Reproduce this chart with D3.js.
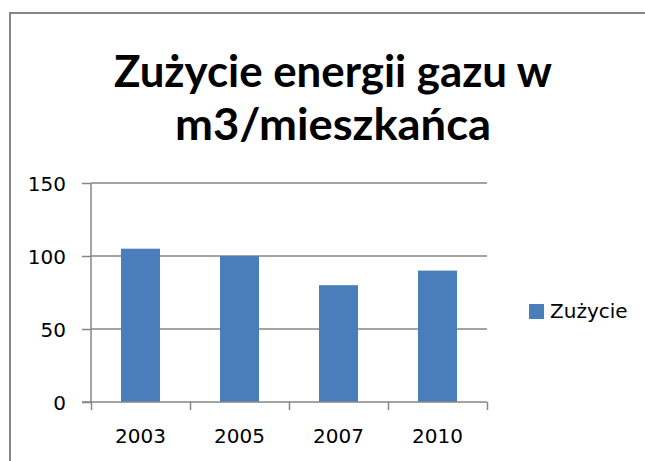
<!DOCTYPE html>
<html>
<head>
<meta charset="utf-8">
<script src="https://cdn.jsdelivr.net/npm/d3@7"></script>
<style>
  body { margin: 0; background: #fff; }
  svg { display: block; }
</style>
</head>
<body>
<script>
let years = ["2003", "2005", "2007", "2010"];
let usage = [105, 100, 80, 90];
let yTicks = [0, 50, 100, 150];
let seriesName = "Zużycie";
let titleLines = ["Zużycie energii gazu w", "m3/mieszkańca"];

let svg = d3.select("body").append("svg").attr("width", 645).attr("height", 461);

// outer frame (only left and top visible)
svg.append("path").attr("d", "M10,461 V13 H645").attr("fill", "none")
    .attr("stroke", "#868686").attr("stroke-width", 2);

// title
let titleWidths = [438, 316];
svg.selectAll("text.title").data(titleLines).enter().append("text")
    .attr("class", "title")
    .attr("x", 333).attr("y", function(d, i) { return 87 + i * 53; })
    .attr("text-anchor", "middle")
    .attr("font-family", "Lato, sans-serif").attr("font-weight", 700)
    .attr("font-size", 44)
    .attr("textLength", function(d, i) { return titleWidths[i]; })
    .attr("lengthAdjust", "spacingAndGlyphs")
    .text(function(d) { return d; });

let y = d3.scaleLinear().domain([0, 150]).range([402, 183]);
let x = d3.scaleBand().domain(years).range([91, 487]).paddingInner(0.606).paddingOuter(0.303);
let xb = d3.scaleLinear().domain([0, years.length]).range([91, 487]);

// gridlines
svg.selectAll("line.grid").data(yTicks.slice(1)).enter().append("line")
    .attr("class", "grid")
    .attr("x1", 91).attr("x2", 487)
    .attr("y1", function(d) { return y(d); }).attr("y2", function(d) { return y(d); })
    .attr("stroke", "#868686").attr("stroke-width", 1.5);

// bars
svg.selectAll("rect.bar").data(usage).enter().append("rect")
    .attr("class", "bar")
    .attr("x", function(d, i) { return x(years[i]); })
    .attr("width", x.bandwidth())
    .attr("y", function(d) { return y(d); })
    .attr("height", function(d) { return y(0) - y(d); })
    .attr("fill", "#4a7ebb");

// y axis
let yAxis = svg.append("g").attr("transform", "translate(91,0)")
    .call(d3.axisLeft(y).tickValues(yTicks).tickSize(9).tickPadding(16));
yAxis.selectAll("line, path").attr("stroke", "#868686").attr("stroke-width", 1.5);
yAxis.select("path").attr("d", "M0,183V402");
yAxis.selectAll("text").attr("font-family", "'DejaVu Sans', sans-serif")
    .attr("font-size", 20).attr("fill", "#000").attr("dy", "0.36em");

// x axis ticks at category boundaries
let xTickAxis = svg.append("g").attr("transform", "translate(0,402)")
    .call(d3.axisBottom(xb).tickValues(d3.range(years.length + 1)).tickSize(8).tickFormat(""));
xTickAxis.selectAll("line, path").attr("stroke", "#868686").attr("stroke-width", 1.5);
xTickAxis.select("path").attr("d", "M82,0H487");

// x labels
let xLabels = svg.append("g").attr("transform", "translate(0,402)")
    .call(d3.axisBottom(x).tickSize(0).tickPadding(27));
xLabels.select("path").remove();
xLabels.selectAll("text").attr("font-family", "'DejaVu Sans', sans-serif")
    .attr("font-size", 20).attr("fill", "#000");

// legend
let legend = svg.append("g").attr("transform", "translate(529,304)");
legend.append("rect").attr("width", 15).attr("height", 15).attr("fill", "#4a7ebb");
legend.append("text").attr("x", 21).attr("y", 14)
    .attr("font-family", "'DejaVu Sans', sans-serif").attr("font-size", 20)
    .attr("fill", "#000").text(seriesName);
</script>
</body>
</html>
